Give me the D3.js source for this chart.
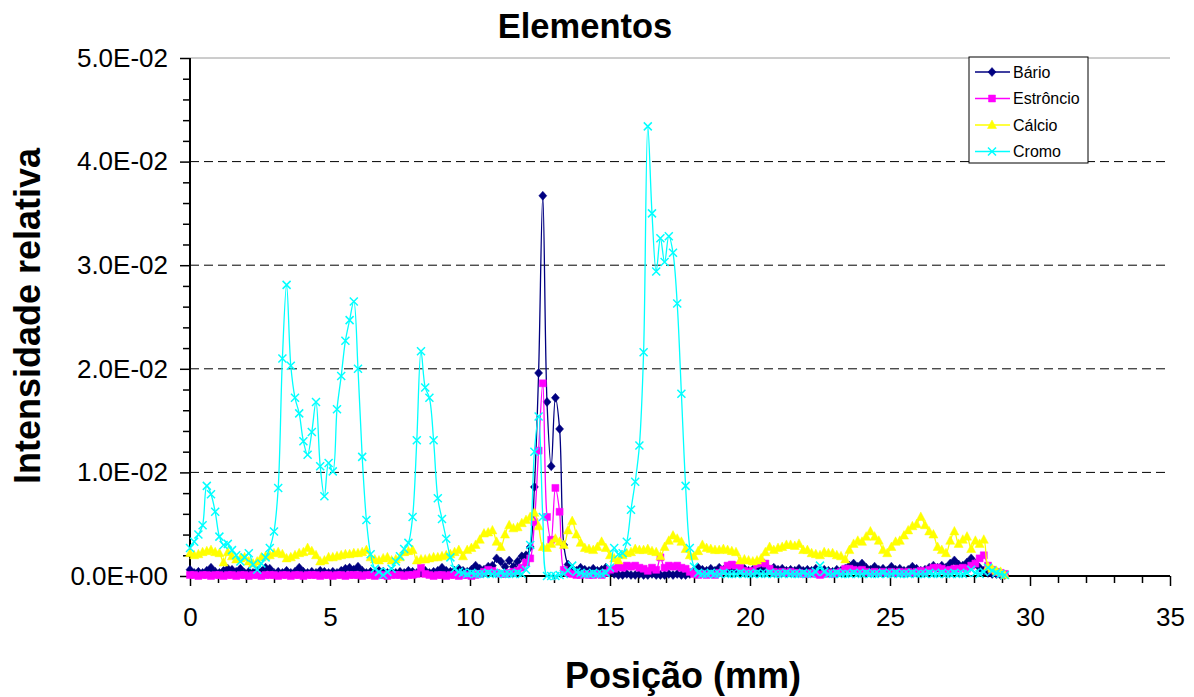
<!DOCTYPE html>
<html>
<head>
<meta charset="utf-8">
<script src="https://cdn.jsdelivr.net/npm/d3@7"></script>
<style>
  html, body { margin: 0; padding: 0; background: #fff; }
  svg { display: block; font-family: "Liberation Sans", Arial, sans-serif; }
</style>
</head>
<body>
<script>
// ---------------- DATA ----------------
// Position (mm)
const positions = [
0,0.15,0.3,0.45,0.6,0.75,0.9,1.05,1.2,1.35,
1.5,1.65,1.8,1.95,2.1,2.25,2.4,2.55,2.7,2.85,
3,3.15,3.3,3.45,3.6,3.75,3.9,4.05,4.2,4.35,
4.5,4.65,4.8,4.95,5.1,5.25,5.4,5.55,5.7,5.85,
6,6.15,6.3,6.45,6.6,6.75,6.9,7.05,7.2,7.35,
7.5,7.65,7.8,7.95,8.1,8.25,8.4,8.55,8.7,8.85,
9,9.15,9.3,9.45,9.6,9.75,9.9,10.05,10.2,10.35,
10.5,10.65,10.8,10.95,11.1,11.25,11.4,11.55,11.7,11.85,
12,12.15,12.3,12.45,12.6,12.75,12.9,13.05,13.2,13.35,
13.5,13.65,13.8,13.95,14.1,14.25,14.4,14.55,14.7,14.85,
15,15.15,15.3,15.45,15.6,15.75,15.9,16.05,16.2,16.35,
16.5,16.65,16.8,16.95,17.1,17.25,17.4,17.55,17.7,17.85,
18,18.15,18.3,18.45,18.6,18.75,18.9,19.05,19.2,19.35,
19.5,19.65,19.8,19.95,20.1,20.25,20.4,20.55,20.7,20.85,
21,21.15,21.3,21.45,21.6,21.75,21.9,22.05,22.2,22.35,
22.5,22.65,22.8,22.95,23.1,23.25,23.4,23.55,23.7,23.85,
24,24.15,24.3,24.45,24.6,24.75,24.9,25.05,25.2,25.35,
25.5,25.65,25.8,25.95,26.1,26.25,26.4,26.55,26.7,26.85,
27,27.15,27.3,27.45,27.6,27.75,27.9,28.05,28.2,28.35,
28.5,28.65,28.8,28.95,29.1
];

// Relative intensities, in units of 1E-02
const barioE2 = [
0.06,0.03,0.04,0.03,0.05,0.08,0.04,0.03,0.05,0.07,
0.06,0.04,0.07,0.03,0.04,0.03,0.05,0.04,0.08,0.07,
0.03,0.04,0.03,0.05,0.03,0.04,0.08,0.04,0.03,0.04,
0.03,0.05,0.04,0.03,0.04,0.03,0.05,0.07,0.08,0.06,
0.09,0.05,0.03,0.04,0.03,0.05,0.04,0.03,0.04,0.03,
0.04,0.03,0.05,0.04,0.03,0.04,0.05,0.03,0.04,0.05,
0.08,0.05,0.04,0.05,0.07,0.05,0.04,0.06,0.10,0.07,
0.06,0.09,0.10,0.17,0.14,0.09,0.15,0.09,0.14,0.19,
0.20,0.28,0.86,1.96,3.67,1.68,1.06,1.72,1.42,0.30,
0.11,0.07,0.05,0.08,0.06,0.05,0.07,0.05,0.06,0.08,
0.05,0.02,0.01,0.01,0.02,0.01,0.01,0.02,0.01,0.01,
0.02,0.01,0.01,0.01,0.02,0.01,0.02,0.01,0.01,0.02,
0.05,0.08,0.06,0.05,0.07,0.05,0.08,0.06,0.05,0.07,
0.06,0.05,0.07,0.05,0.06,0.04,0.07,0.05,0.06,0.08,
0.06,0.07,0.05,0.06,0.05,0.07,0.05,0.06,0.05,0.07,
0.05,0.06,0.05,0.04,0.06,0.05,0.07,0.10,0.12,0.09,
0.12,0.08,0.06,0.09,0.06,0.07,0.05,0.09,0.06,0.07,
0.05,0.06,0.09,0.07,0.05,0.06,0.08,0.10,0.08,0.10,
0.08,0.12,0.15,0.11,0.10,0.13,0.17,0.12,0.08,0.05,
0.03,0.02,0.02,0.01,0.01
];

const estroncioE2 = [
0.01,0.01,0.00,0.01,0.01,0.00,0.01,0.01,0.00,0.01,
0.01,0.00,0.01,0.01,0.00,0.01,0.01,0.00,0.01,0.01,
0.01,0.00,0.01,0.01,0.00,0.01,0.01,0.00,0.01,0.01,
0.01,0.00,0.01,0.01,0.00,0.01,0.01,0.00,0.01,0.01,
0.01,0.00,0.01,0.01,0.00,0.01,0.01,0.00,0.01,0.01,
0.01,0.00,0.01,0.01,0.02,0.08,0.02,0.01,0.00,0.01,
0.01,0.00,0.01,0.01,0.00,0.01,0.01,0.00,0.01,0.02,
0.04,0.06,0.05,0.03,0.02,0.02,0.03,0.04,0.05,0.08,
0.13,0.17,0.52,1.21,1.86,0.57,0.35,0.85,0.62,0.06,
0.03,0.02,0.01,0.01,0.02,0.01,0.01,0.02,0.01,0.03,
0.06,0.07,0.09,0.08,0.10,0.09,0.10,0.08,0.07,0.05,
0.08,0.06,0.18,0.08,0.10,0.09,0.10,0.08,0.07,0.04,
0.02,0.01,0.02,0.01,0.02,0.01,0.03,0.06,0.10,0.11,
0.10,0.08,0.05,0.04,0.05,0.12,0.13,0.12,0.07,0.04,
0.03,0.04,0.03,0.04,0.03,0.03,0.02,0.02,0.03,0.02,
0.01,0.02,0.03,0.02,0.03,0.04,0.07,0.07,0.06,0.05,
0.06,0.04,0.03,0.04,0.03,0.04,0.03,0.04,0.03,0.04,
0.03,0.04,0.03,0.04,0.05,0.04,0.06,0.08,0.08,0.07,
0.05,0.06,0.07,0.07,0.08,0.07,0.10,0.12,0.17,0.20,
0.10,0.06,0.04,0.03,0.02
];

const calcioE2 = [
0.22,0.20,0.21,0.23,0.24,0.25,0.23,0.22,0.13,0.23,
0.19,0.16,0.17,0.18,0.14,0.12,0.14,0.18,0.19,0.20,
0.22,0.23,0.21,0.17,0.18,0.20,0.22,0.23,0.27,0.24,
0.20,0.14,0.15,0.18,0.18,0.19,0.20,0.21,0.21,0.22,
0.22,0.23,0.25,0.18,0.16,0.15,0.17,0.18,0.15,0.16,
0.18,0.23,0.24,0.25,0.15,0.16,0.16,0.17,0.18,0.18,
0.19,0.20,0.21,0.23,0.25,0.19,0.25,0.27,0.30,0.35,
0.41,0.42,0.44,0.33,0.28,0.40,0.49,0.46,0.47,0.51,
0.54,0.57,0.61,0.48,0.28,0.27,0.31,0.36,0.33,0.30,
0.44,0.53,0.40,0.32,0.27,0.26,0.25,0.28,0.33,0.27,
0.20,0.17,0.15,0.20,0.22,0.23,0.26,0.25,0.25,0.26,
0.24,0.23,0.19,0.28,0.34,0.39,0.36,0.33,0.26,0.20,
0.19,0.24,0.30,0.27,0.26,0.25,0.25,0.26,0.25,0.24,
0.23,0.15,0.16,0.15,0.14,0.15,0.17,0.23,0.28,0.25,
0.27,0.28,0.30,0.30,0.29,0.31,0.25,0.25,0.22,0.21,
0.20,0.23,0.22,0.22,0.20,0.19,0.16,0.25,0.31,0.34,
0.33,0.38,0.43,0.38,0.34,0.25,0.22,0.28,0.33,0.34,
0.39,0.44,0.48,0.50,0.57,0.49,0.43,0.40,0.28,0.25,
0.22,0.34,0.43,0.31,0.35,0.38,0.26,0.34,0.31,0.35,
0.09,0.07,0.05,0.04,0.01
];

const cromoE2 = [
0.27,0.33,0.40,0.49,0.87,0.79,0.62,0.38,0.30,0.31,
0.25,0.20,0.14,0.18,0.22,0.11,0.06,0.12,0.18,0.27,
0.43,0.85,2.10,2.81,2.03,1.72,1.57,1.30,1.17,1.39,
1.68,1.06,0.77,1.09,1.01,1.61,1.93,2.27,2.47,2.65,
2.00,1.15,0.54,0.21,0.07,0.04,0.01,0.04,0.07,0.14,
0.19,0.26,0.32,0.57,1.31,2.17,1.82,1.72,1.31,0.75,
0.55,0.36,0.18,0.07,0.04,0.03,0.02,0.03,0.02,0.02,
0.02,0.03,0.02,0.02,0.03,0.02,0.02,0.02,0.03,0.02,
0.06,0.30,1.20,1.54,0.57,0.00,0.00,0.00,0.01,0.02,
0.05,0.10,0.04,0.03,0.02,0.02,0.03,0.02,0.02,0.03,
0.08,0.27,0.21,0.22,0.33,0.64,0.91,1.26,2.16,4.34,
3.50,2.94,3.26,3.03,3.28,3.12,2.63,1.76,0.87,0.27,
0.09,0.03,0.02,0.02,0.03,0.02,0.02,0.03,0.02,0.02,
0.02,0.03,0.02,0.02,0.02,0.03,0.02,0.02,0.03,0.02,
0.02,0.02,0.03,0.02,0.02,0.02,0.03,0.02,0.02,0.04,
0.10,0.04,0.02,0.02,0.03,0.02,0.02,0.02,0.03,0.02,
0.02,0.03,0.02,0.02,0.02,0.03,0.02,0.02,0.03,0.02,
0.02,0.02,0.03,0.02,0.02,0.02,0.03,0.02,0.02,0.03,
0.02,0.02,0.03,0.02,0.02,0.03,0.06,0.03,0.02,0.04,
0.08,0.05,0.03,0.02,0.01
];

const seriesNames = ["Bário", "Estrôncio", "Cálcio", "Cromo"];
const yTickValues = [0, 0.01, 0.02, 0.03, 0.04, 0.05];
const xTickValues = [0, 5, 10, 15, 20, 25, 30, 35];
const titleText = "Elementos";
const xTitle = "Posição (mm)";
const yTitle = "Intensidade relativa";

// ---------------- CHART ----------------
const W = 1194, H = 697;
const svg = d3.select("body").append("svg").attr("width", W).attr("height", H);

const x = d3.scaleLinear().domain([0, 35]).range([190, 1170]);
const y = d3.scaleLinear().domain([0, 0.05]).range([576, 58]);

const E2 = 0.01;
const seriesData = [barioE2, estroncioE2, calcioE2, cromoE2].map(arr =>
  positions.map((p, i) => ({ x: p, v: arr[i] * E2 })));

const colors = ["#000080", "#FF00FF", "#FFFF00", "#00FFFF"];
const markerPaths = [
  "M0,-4.5L4,0L0,4.5L-4,0Z",           // diamond
  "M-3.5,-3.5H3.5V3.5H-3.5Z",          // square
  "M0,-5L4.5,3.5H-4.5Z",               // triangle
  "M-4,-4L4,4M-4,4L4,-4"               // x
];

function fmtSci(d) {
  if (d === 0) return "0.0E+00";
  const e = Math.floor(Math.log10(d) + 1e-9);
  const m = d / Math.pow(10, e);
  return m.toFixed(1) + "E" + (e < 0 ? "-" : "+") + String(Math.abs(e)).padStart(2, "0");
}

// Gridlines
svg.append("g").selectAll("line")
  .data([0.01, 0.02, 0.03, 0.04])
  .join("line")
  .attr("x1", x(0)).attr("x2", x(35))
  .attr("y1", d => y(d)).attr("y2", d => y(d))
  .attr("stroke", "#000").attr("stroke-width", 1)
  .attr("stroke-dasharray", "9,5");
svg.append("line")
  .attr("x1", x(0)).attr("x2", x(35))
  .attr("y1", y(0.05)).attr("y2", y(0.05))
  .attr("stroke", "#9a9a9a").attr("stroke-width", 1);

// Minor ticks
const yMinor = d3.range(0, 51, 2).map(k => k / 1000).filter(v => Math.round(v * 1000) % 10 !== 0);
svg.append("g").attr("transform", `translate(${x(0)},0)`)
  .call(d3.axisLeft(y).tickValues(yMinor).tickSize(7).tickFormat(""))
  .call(g => g.select(".domain").remove())
  .call(g => g.selectAll("line").attr("stroke", "#000").attr("stroke-width", 1.5));
const xMinor = d3.range(0, 36).filter(v => v % 5 !== 0);
svg.append("g").attr("transform", `translate(0,${y(0)})`)
  .call(d3.axisBottom(x).tickValues(xMinor).tickSize(7).tickFormat(""))
  .call(g => g.select(".domain").remove())
  .call(g => g.selectAll("line").attr("stroke", "#000").attr("stroke-width", 1.5));

// Major axes
const yAxis = svg.append("g").attr("transform", `translate(${x(0)},0)`)
  .call(d3.axisLeft(y).tickValues(yTickValues).tickSize(10).tickPadding(12).tickFormat(fmtSci));
yAxis.select(".domain").attr("stroke", "#000").attr("stroke-width", 2).attr("d", `M0,${y(0.05)}V${y(0)}`);
yAxis.selectAll("line").attr("stroke", "#000").attr("stroke-width", 1.5);
yAxis.selectAll("text").attr("font-size", 26).attr("fill", "#000")
  .attr("font-family", "'Liberation Sans', Arial, sans-serif");

const xAxis = svg.append("g").attr("transform", `translate(0,${y(0)})`)
  .call(d3.axisBottom(x).tickValues(xTickValues).tickSize(10).tickPadding(22));
xAxis.select(".domain").attr("stroke", "#000").attr("stroke-width", 2).attr("d", `M${x(0)},0H${x(35)}`);
xAxis.selectAll("line").attr("stroke", "#000").attr("stroke-width", 1.5);
xAxis.selectAll("text").attr("font-size", 26).attr("fill", "#000")
  .attr("font-family", "'Liberation Sans', Arial, sans-serif");

// Series
const line = d3.line().x(d => x(d.x)).y(d => y(d.v)).curve(d3.curveCatmullRom.alpha(0.5));
seriesData.forEach((data, s) => {
  const g = svg.append("g");
  g.append("path").datum(data)
    .attr("d", line).attr("fill", "none")
    .attr("stroke", colors[s]).attr("stroke-width", 1.3);
  g.selectAll("path.m").data(data).join("path")
    .attr("class", "m")
    .attr("transform", d => `translate(${x(d.x)},${y(d.v)})`)
    .attr("d", markerPaths[s])
    .attr("fill", s === 3 ? "none" : colors[s])
    .attr("stroke", colors[s])
    .attr("stroke-width", s === 3 ? 1.5 : 0.5);
});

// Titles
svg.append("text").attr("x", 585).attr("y", 38).attr("text-anchor", "middle")
  .attr("font-size", 34.5).attr("font-weight", "bold").text(titleText);
svg.append("text").attr("x", 683).attr("y", 688).attr("text-anchor", "middle")
  .attr("font-size", 36).attr("font-weight", "bold").text(xTitle);
svg.append("text").attr("transform", "translate(40,316) rotate(-90)").attr("text-anchor", "middle")
  .attr("font-size", 36).attr("font-weight", "bold").text(yTitle);

// Legend
const lg = svg.append("g");
lg.append("rect").attr("x", 969).attr("y", 57).attr("width", 119).attr("height", 106)
  .attr("fill", "#fff").attr("stroke", "#000").attr("stroke-width", 1);
seriesNames.forEach((name, s) => {
  const yy = 72 + s * 26.5;
  lg.append("line").attr("x1", 975).attr("x2", 1010).attr("y1", yy).attr("y2", yy)
    .attr("stroke", colors[s]).attr("stroke-width", 1.3);
  lg.append("path").attr("transform", `translate(992,${yy})`).attr("d", markerPaths[s])
    .attr("fill", s === 3 ? "none" : colors[s]).attr("stroke", colors[s])
    .attr("stroke-width", s === 3 ? 1.5 : 0.5);
  lg.append("text").attr("x", 1013).attr("y", yy).attr("dy", "0.35em")
    .attr("font-size", 16).text(name);
});
</script>
</body>
</html>
